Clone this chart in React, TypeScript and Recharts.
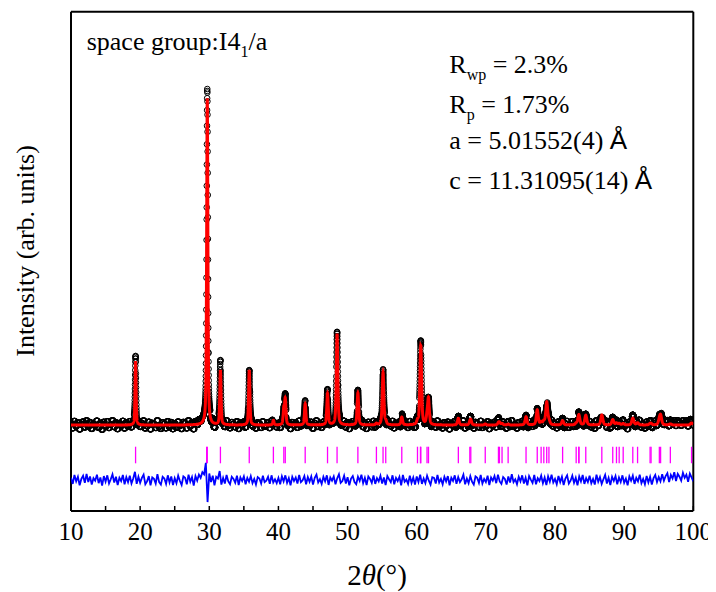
import { ComposedChart, Line, Scatter, XAxis, YAxis } from "recharts"

// Bragg reflections of the I4_1/a phase (2theta, deg) and their peak heights above background
const braggPos = [
    19.34, 29.62, 29.71, 31.61, 35.78, 39.27, 40.78, 40.99, 43.87, 47.10,
    48.48, 51.49, 54.17, 55.13, 55.52, 57.84, 60.11, 60.54, 60.59, 61.49,
    61.70, 66.02, 67.68, 67.82, 69.91, 71.82, 71.96, 72.34, 73.22, 75.81,
    77.43, 77.99, 78.38, 78.80, 79.12, 81.10, 83.06, 83.43, 83.47, 84.45,
    86.77, 88.35, 88.89, 89.28, 89.86, 91.25, 91.94, 93.75, 93.89, 95.09,
    95.27, 96.68, 99.75,
]
const calcHeight = [
    1790, 350, 8960, 1530, 1540, 130, 420, 700, 600, 880,
    2560, 900, 40, 1480, 90, 220, 90, 350, 1900, 200,
    720, 190, 60, 130, 30, 50, 60, 40, 25, 230,
    420, 70, 90, 630, 110, 120, 40, 170, 120, 270,
    280, 150, 50, 40, 40, 190, 60, 30, 30, 100,
    250, 30, 60,
]
const obsHeight = [
    1810, 350, 9350, 1680, 1580, 130, 420, 710, 600, 890,
    2570, 910, 40, 1500, 90, 220, 90, 350, 1920, 200,
    730, 190, 60, 130, 30, 50, 60, 40, 25, 230,
    420, 70, 90, 630, 110, 120, 40, 170, 120, 270,
    280, 150, 50, 40, 40, 190, 60, 30, 30, 100,
    250, 30, 60,
]
const background = 410

// Yobs - Ycalc, read every 0.25 deg from 10 to 100
const diffNoise = [
    60, -110, 140, -40, 90, -150, 30, 120, -80, 170, -60, 100, -130, 50, -20, 150, -90, 70, -160, 110,
    -50, 130, -100, 20, 160, -70, 90, -140, 60, -30, 140, -120, 80, -60, 120, -100, 40, 230, -110, 90,
    -80, 60, 150, -120, -40, 110, -150, 70, 30, -100, 160, -60, -130, 90, 40, -110, 130, -70, 100, -140,
    50, -90, 120, -30, -140, 100, 60, -120, 150, -50, 80, -160, 110, -20, 150, 60, 220, 160, 480, -620,
    180, -60, 120, -150, 90, 40, 250, -130, 60, -100, 140, -40, -120, 90, 30, -80, 120, -140, 70, -30,
    100, -120, 60, -50, 110, -90, 30, -130, 80, 40, -100, 120, -60, -20, 90, -110, 130, -70, 20, -90,
    60, -120, 100, -40, 130, -80, 50, -150, 90, -30, 70, -100, 140, -60, -10, 110, -120, 80, -50, 100,
    -130, 60, 150, -70, 20, -110, 90, -40, 130, -140, 70, -20, 100, -120, 50, 160, -80, -30, 120, -100,
    80, -150, 40, 110, -60, -120, 90, -30, 150, -90, 60, -140, 100, 30, -80, 130, -110, 50, -40, 120,
    -100, 70, -140, 110, 20, -60, 130, -120, 60, -30, 90, -150, 140, -50, 10, -110, 120, -80, 70, -130,
    100, -60, 150, -110, 40, -90, 120, -20, -130, 80, 60, -100, 140, -70, 30, -120, 90, -40, 110, -150,
    60, -30, 130, -110, 80, -60, 20, 150, -120, 40, -90, 110, -50, -130, 100, 60, -80, 140, -100, 30,
    -60, 120, -140, 70, -20, 110, -90, 150, -40, -110, 80, 30, -130, 100, -70, 160, -60, 20, -120, 90,
    -40, 130, -100, 60, -150, 110, 10, -80, 140, -120, 50, -30, 120, -90, 70, -140, 100, -50, 150, -70,
    30, -120, 110, -60, 90, -140, 40, 130, -100, -20, 120, -80, 60, -150, 100, -40, 140, -110, 50, -60,
    120, -90, 30, -130, 150, -50, 80, -110, 20, 140, -100, 60, -140, 90, -30, 110, -120, 70, -60, 130,
    -80, 40, -150, 100, -20, 120, -110, 60, -40, 150, -90, 30, -120, 110, -70, 90, -130, 50, 140, -60,
    80, -40, 160, -20, 110, 190, -60, 140, 40, 220, -30, 170, 90, -20, 200, 60, 150, -50, 180, 70,
    -40,
]

const xTicks = [10, 15, 20, 25, 30, 35, 40, 45, 50, 55, 60, 65, 70, 75, 80, 85, 90, 95, 100]
const yTicks = [-2000, -1000, 0, 1000, 2000, 3000, 4000, 5000, 6000, 7000, 8000, 9000, 10000, 11000, 12000]

const DIFF_ZERO = -1130
const BRAGG_Y = -430
const FONT = "'Liberation Serif', 'Times New Roman', serif"

function pseudoVoigt(x: number, x0: number, w: number) {
    const t = (x - x0) / w
    const t2 = 4 * t * t
    return 0.5 / (1 + t2) + 0.5 * Math.exp(-Math.LN2 * t2)
}

const obsPoints: { x: number; y: number }[] = []
const calcPoints: { x: number; y: number }[] = []
for (let i = 0; i <= 9000; i++) {
    const x = 10 + i * 0.01
    let calc = background
    let obs = background
    braggPos.forEach((p, k) => {
        if (Math.abs(x - p) > 4) return
        const w = 0.13 + 0.0024 * p
        const f = pseudoVoigt(x, p, w)
        calc += calcHeight[k] * f
        obs += obsHeight[k] * f
    })
    if (i % 4 !== 0 && calc - background < 25) continue
    const n = diffNoise[Math.round((x - 10) / 0.25)]
    obsPoints.push({ x, y: obs + 0.8 * Math.max(-160, Math.min(160, n)) })
    calcPoints.push({ x, y: calc })
}
const diffPoints = diffNoise.map((d, i) => ({ x: 10 + i * 0.25, y: DIFF_ZERO + d }))
const braggPoints = braggPos.map((x) => ({ x, y: BRAGG_Y }))

const ObsCircle = (p: any) => (
    <circle cx={p.cx} cy={p.cy} r={2.8} fill="none" stroke="#000" strokeWidth={1} />
)
const BraggTick = (p: any) => (
    <line x1={p.cx} x2={p.cx} y1={p.cy - 8.3} y2={p.cy + 8.3} stroke="#ff00ff" strokeWidth={1.3} />
)

const axisLine = { stroke: "#000", strokeWidth: 2 }
const tickLine = { stroke: "#000", strokeWidth: 1.5 }

export default function App() {
    return (
        <div style={{ position: "relative", width: 700, height: 584 }}>
            <style>{`.recharts-surface { overflow: visible; }`}</style>
            <ComposedChart
                width={700}
                height={584}
                margin={{ top: 2.7, right: 13.7, bottom: 51, left: 62 }}
            >
                <XAxis
                    dataKey="x"
                    type="number"
                    domain={[10, 100]}
                    ticks={xTicks}
                    allowDataOverflow
                    height={30}
                    tickSize={-5}
                    tickMargin={16}
                    axisLine={axisLine}
                    tickLine={tickLine}
                    interval={0}
                    tickFormatter={(v: number) => (v % 10 === 0 ? String(v) : "")}
                    tick={{ fontFamily: FONT, fontSize: 25, fill: "#000" }}
                />
                <XAxis
                    xAxisId="top"
                    orientation="top"
                    dataKey="x"
                    type="number"
                    domain={[10, 100]}
                    ticks={xTicks}
                    allowDataOverflow
                    height={1}
                    tickSize={-5}
                    interval={0}
                    axisLine={axisLine}
                    tickLine={tickLine}
                    tick={false}
                />
                <YAxis
                    dataKey="y"
                    type="number"
                    domain={[-2000, 12000]}
                    ticks={yTicks}
                    allowDataOverflow
                    width={1}
                    tickSize={-5}
                    interval={0}
                    axisLine={axisLine}
                    tickLine={tickLine}
                    tick={false}
                />
                <YAxis
                    yAxisId="right"
                    orientation="right"
                    type="number"
                    domain={[-2000, 12000]}
                    ticks={yTicks}
                    allowDataOverflow
                    width={1}
                    tickSize={-5}
                    interval={0}
                    axisLine={axisLine}
                    tickLine={tickLine}
                    tick={false}
                />
                <Scatter data={obsPoints} dataKey="y" shape={ObsCircle} isAnimationActive={false} />
                <Line
                    data={calcPoints}
                    dataKey="y"
                    type="linear"
                    stroke="#ff0000"
                    strokeWidth={3}
                    dot={false}
                    activeDot={false}
                    isAnimationActive={false}
                    zIndex={700}
                />
                <Scatter data={braggPoints} dataKey="y" shape={BraggTick} isAnimationActive={false} />
                <Line
                    data={diffPoints}
                    dataKey="y"
                    type="linear"
                    stroke="#0000ff"
                    strokeWidth={1.8}
                    dot={false}
                    activeDot={false}
                    isAnimationActive={false}
                    zIndex={700}
                />
            </ComposedChart>
            <svg
                width={700}
                height={584}
                style={{ position: "absolute", left: 0, top: 0, pointerEvents: "none" }}
                fontFamily={FONT}
                fill="#000"
            >
                <text x={78.7} y={42} fontSize={26}>
                    space group:I4<tspan fontSize={16} dy={7}>1</tspan>
                    <tspan dy={-7}>/a</tspan>
                </text>
                <text x={441.3} y={65} fontSize={26}>
                    R<tspan fontSize={16} dy={7}>wp</tspan>
                    <tspan dy={-7}> = 2.3%</tspan>
                </text>
                <text x={441.3} y={105} fontSize={26}>
                    R<tspan fontSize={16} dy={7}>p</tspan>
                    <tspan dy={-7}> = 1.73%</tspan>
                </text>
                <text x={441.3} y={141} fontSize={26}>
                    a = 5.01552(4) <tspan fontFamily="'Liberation Sans', Arial, sans-serif">Å</tspan>
                </text>
                <text x={441.3} y={181} fontSize={26}>
                    c = 11.31095(14) <tspan fontFamily="'Liberation Sans', Arial, sans-serif">Å</tspan>
                </text>
                <text x={26} y={243} fontSize={26} textAnchor="middle" transform="rotate(-90 26 243)">
                    Intensity (arb. units)
                </text>
                <text x={369} y={577} fontSize={29} textAnchor="middle">
                    2<tspan fontStyle="italic">θ</tspan>(°)
                </text>
            </svg>
        </div>
    )
}
